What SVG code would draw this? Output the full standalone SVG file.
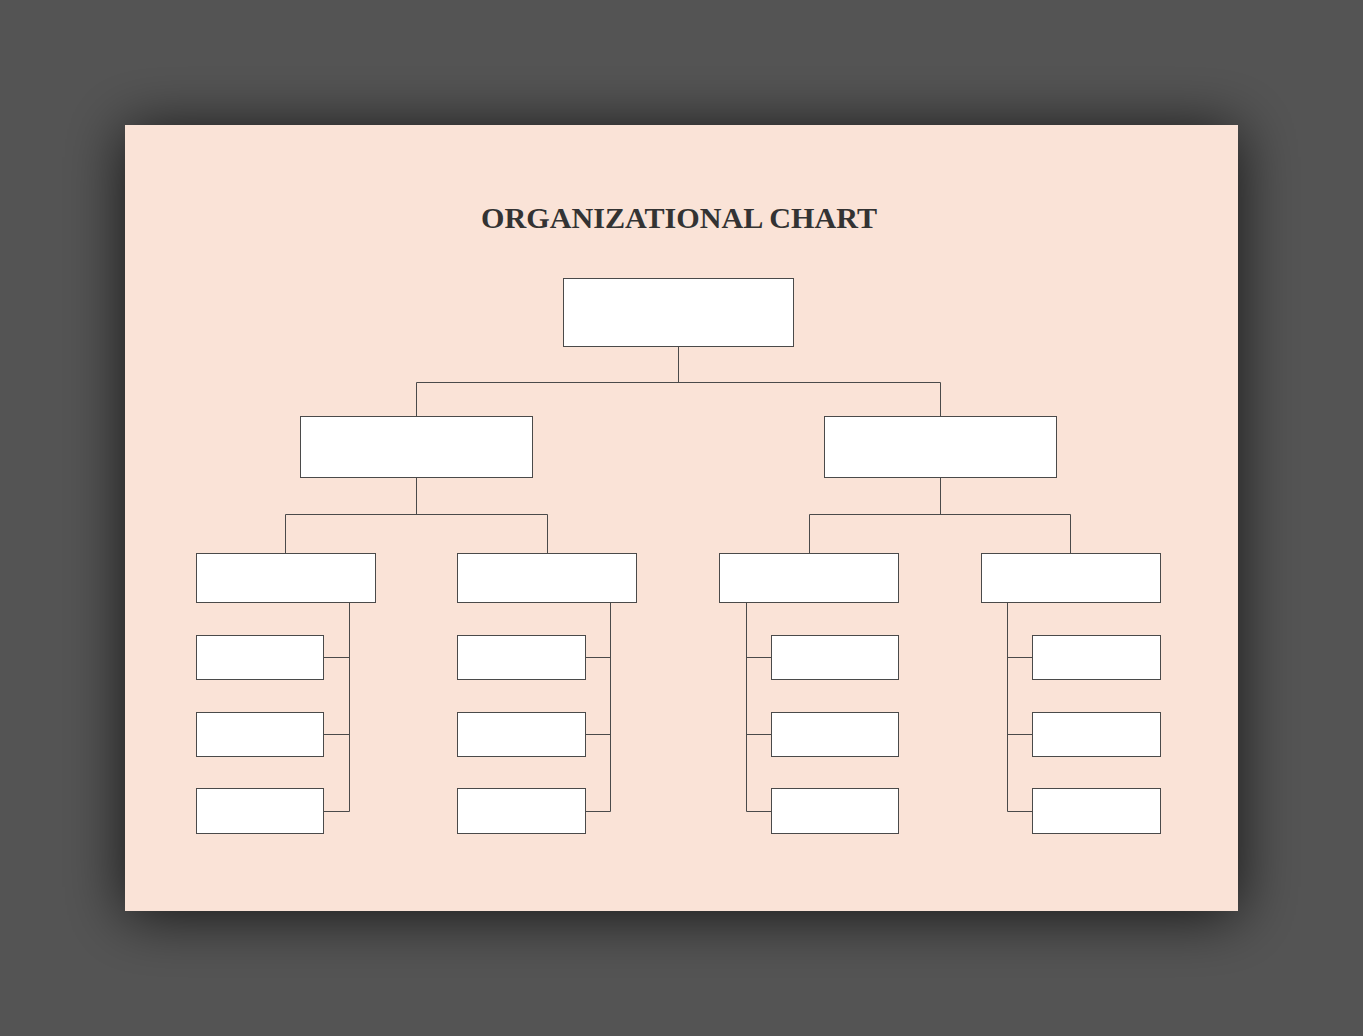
<svg xmlns="http://www.w3.org/2000/svg" width="1363" height="1036" viewBox="0 0 1363 1036">
<defs>
<filter id="sh" x="-20%" y="-25%" width="140%" height="150%">
<feGaussianBlur in="SourceAlpha" stdDeviation="30"/>
<feOffset dx="0" dy="4" result="b"/>
<feComponentTransfer><feFuncA type="linear" slope="0.75"/></feComponentTransfer>
<feMerge><feMergeNode/><feMergeNode in="SourceGraphic"/></feMerge>
</filter>
<style>
.n{fill:#ffffff;stroke:#4a4a4a;stroke-width:1}
.c{fill:none;stroke:#4a4a4a;stroke-width:1}
.t{font-family:"Liberation Serif",serif;font-weight:bold;font-size:30px;fill:#333333}
</style>
</defs>
<rect width="1363" height="1036" fill="#545454"/>
<rect x="125" y="125" width="1113" height="786" fill="#FAE3D7" filter="url(#sh)"/>
<text class="t" x="679" y="228" text-anchor="middle" textLength="396" lengthAdjust="spacingAndGlyphs">ORGANIZATIONAL CHART</text>
<g id="connectors">
<path class="c" d="M678.5 346.5V382.5M416.5 382.5H940.5M416.5 382.5V416.5M940.5 382.5V416.5"/>
<path class="c" d="M416.5 477.5V514.5M285.5 514.5H547.5M285.5 514.5V553.5M547.5 514.5V553.5"/>
<path class="c" d="M940.5 477.5V514.5M809.5 514.5H1070.5M809.5 514.5V553.5M1070.5 514.5V553.5"/>
<path class="c" d="M349.5 602.5V811.5M323.5 657.5H349.5M323.5 734.5H349.5M323.5 811.5H349.5"/>
<path class="c" d="M610.5 602.5V811.5M585.5 657.5H610.5M585.5 734.5H610.5M585.5 811.5H610.5"/>
<path class="c" d="M746.5 602.5V811.5M746.5 657.5H771.5M746.5 734.5H771.5M746.5 811.5H771.5"/>
<path class="c" d="M1007.5 602.5V811.5M1007.5 657.5H1032.5M1007.5 734.5H1032.5M1007.5 811.5H1032.5"/>
</g>
<g id="n0"><rect class="n" x="563.5" y="278.5" width="230" height="68"/></g>
<g id="n1"><rect class="n" x="300.5" y="416.5" width="232" height="61"/></g>
<g id="n2"><rect class="n" x="824.5" y="416.5" width="232" height="61"/></g>
<g id="n3"><rect class="n" x="196.5" y="553.5" width="179" height="49"/></g>
<g id="n4"><rect class="n" x="457.5" y="553.5" width="179" height="49"/></g>
<g id="n5"><rect class="n" x="719.5" y="553.5" width="179" height="49"/></g>
<g id="n6"><rect class="n" x="981.5" y="553.5" width="179" height="49"/></g>
<g id="n7"><rect class="n" x="196.5" y="635.5" width="127" height="44"/></g>
<g id="n8"><rect class="n" x="196.5" y="712.5" width="127" height="44"/></g>
<g id="n9"><rect class="n" x="196.5" y="788.5" width="127" height="45"/></g>
<g id="n10"><rect class="n" x="457.5" y="635.5" width="128" height="44"/></g>
<g id="n11"><rect class="n" x="457.5" y="712.5" width="128" height="44"/></g>
<g id="n12"><rect class="n" x="457.5" y="788.5" width="128" height="45"/></g>
<g id="n13"><rect class="n" x="771.5" y="635.5" width="127" height="44"/></g>
<g id="n14"><rect class="n" x="771.5" y="712.5" width="127" height="44"/></g>
<g id="n15"><rect class="n" x="771.5" y="788.5" width="127" height="45"/></g>
<g id="n16"><rect class="n" x="1032.5" y="635.5" width="128" height="44"/></g>
<g id="n17"><rect class="n" x="1032.5" y="712.5" width="128" height="44"/></g>
<g id="n18"><rect class="n" x="1032.5" y="788.5" width="128" height="45"/></g>
</svg>
